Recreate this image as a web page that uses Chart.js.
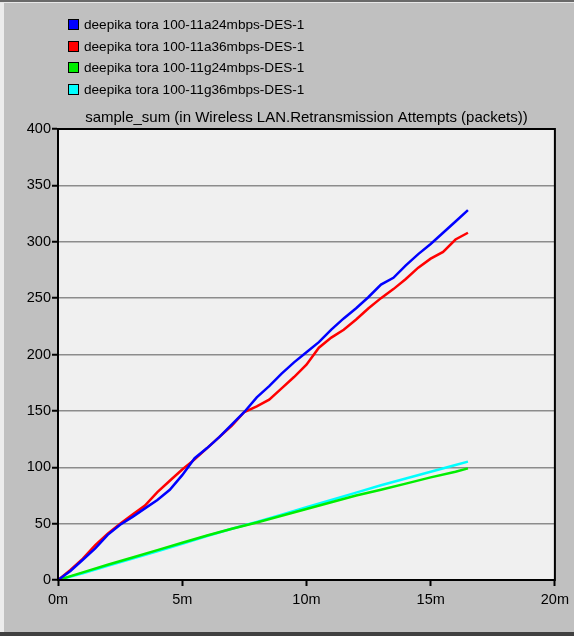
<!DOCTYPE html>
<html>
<head>
<meta charset="utf-8">
<script src="https://cdn.jsdelivr.net/npm/chart.js@4"></script>
<style>
  html, body { margin: 0; padding: 0; }
  body { width: 574px; height: 636px; background: #c0c0c0; position: relative; overflow: hidden;
         font-family: "Liberation Sans", Arial, sans-serif; }
  #frameTop { position: absolute; left: 0; top: 0; width: 574px; height: 2px; background: #6a6a6a; }
  #frameTop2 { position: absolute; left: 0; top: 2px; width: 574px; height: 1px; background: #e8e8e8; }
  #frameLeft { position: absolute; left: 0; top: 3px; width: 4px; height: 630px; background: #ececec; }
  #frameBottom { position: absolute; left: 0; top: 632px; width: 574px; height: 4px; background: #404040; }
  #wrap { position: absolute; left: 0; top: 0; width: 574px; height: 636px; }
  #legend { position: absolute; left: 68px; top: 14px; font-size: 13.6px; color: #000; }
  #legend div { height: 21.5px; line-height: 21.5px; white-space: nowrap; }
  #legend span.box { display: inline-block; width: 9px; height: 9px; border: 1px solid #000;
                     margin-right: 5px; vertical-align: -1px; }
</style>
</head>
<body>
<div id="frameTop"></div>
<div id="frameTop2"></div>
<div id="frameLeft"></div>
<div id="frameBottom"></div>
<div id="wrap"><canvas id="retxChart" width="574" height="636"></canvas></div>
<div id="legend"></div>
<script>
// series names and colours
const seriesNames = [
  "deepika tora 100-11a24mbps-DES-1",
  "deepika tora 100-11a36mbps-DES-1",
  "deepika tora 100-11g24mbps-DES-1",
  "deepika tora 100-11g36mbps-DES-1"
];
const seriesColors = ["#0000ff", "#ff0000", "#00ee00", "#00ffff"];

// time (minutes) for the 11a runs
const timesA = [0, 0.5, 1, 1.5, 2, 2.5, 3, 3.5, 4, 4.5, 5, 5.5, 6, 6.5, 7, 7.5, 8, 8.5,
                9, 9.5, 10, 10.5, 11, 11.5, 12, 12.5, 13, 13.5, 14, 14.5, 15, 15.5, 16, 16.5];
const a24 = [0, 8, 18, 28, 40, 49, 56, 63.5, 71, 80, 93, 108, 117, 127, 138, 149, 162, 172,
             183, 193, 202, 211, 222, 232, 241, 251, 262, 268, 279, 289, 298, 308, 318, 328];
const a36 = [0, 9, 19, 31, 41, 50, 58, 66, 78, 88, 98, 107, 117, 127, 137, 149, 154, 160,
             170, 180, 191, 206, 215, 222, 231, 241, 250, 258, 267, 277, 285, 291, 302, 308];

// time (minutes) for the 11g runs
const timesG = [0, 1, 2, 3, 4, 5, 6, 7, 8, 9, 10, 11, 12, 13, 14, 15, 16, 16.5];
const g24 = [0, 6.8, 13.5, 20, 26.5, 33, 39.5, 45.5, 51, 57, 63, 69, 75, 80, 85.5, 91, 96, 99];
const g36 = [0, 6, 12.5, 19, 25.5, 32, 39, 45.5, 51.5, 58, 64.5, 71, 77.5, 84, 90, 96, 102, 105];

// axis ticks
const xTicks = [0, 5, 10, 15, 20];
const yTicks = [0, 50, 100, 150, 200, 250, 300, 350, 400];

const chartTitle = "sample_sum (in Wireless LAN.Retransmission Attempts (packets))";

function pts(xs, ys) {
  return xs.map((x, i) => ({ x: x, y: ys[i] }));
}

const allSeries = [pts(timesA, a24), pts(timesA, a36), pts(timesG, g24), pts(timesG, g36)];

// html legend
const legendEl = document.getElementById("legend");
seriesNames.forEach((name, i) => {
  const row = document.createElement("div");
  row.innerHTML = '<span class="box" style="background:' + seriesColors[i] + '"></span>' + name;
  legendEl.appendChild(row);
});

// plot background, border, title
const plotFrame = {
  id: "plotFrame",
  beforeDraw(chart) {
    const { ctx, chartArea: a } = chart;
    ctx.save();
    ctx.fillStyle = "#f0f0f0";
    ctx.fillRect(a.left, a.top, a.right - a.left, a.bottom - a.top);
    ctx.restore();
  },
  afterDraw(chart) {
    const { ctx, chartArea: a } = chart;
    ctx.save();
    ctx.strokeStyle = "#000";
    ctx.lineWidth = 2;
    ctx.strokeRect(a.left, a.top, a.right - a.left, a.bottom - a.top);
    ctx.fillStyle = "#000";
    ctx.font = '15px "Liberation Sans", Arial, sans-serif';
    ctx.textAlign = "center";
    ctx.textBaseline = "middle";
    ctx.fillText(chartTitle, (a.left + a.right) / 2, a.top - 11);
    ctx.restore();
  }
};

const tickFont = { family: '"Liberation Sans", Arial, sans-serif', size: 14.5 };

new Chart(document.getElementById("retxChart").getContext("2d"), {
  type: "line",
  data: {
    datasets: allSeries.map((d, i) => ({
      label: seriesNames[i],
      data: d,
      borderColor: seriesColors[i],
      backgroundColor: seriesColors[i],
      borderWidth: 2.5,
      pointRadius: 0,
      tension: 0,
      fill: false
    }))
  },
  options: {
    responsive: false,
    animation: false,
    layout: { padding: { top: 129, left: 0, right: 19, bottom: 0 } },
    plugins: {
      legend: { display: false },
      tooltip: { enabled: false }
    },
    scales: {
      x: {
        type: "linear",
        min: 0,
        max: 20,
        afterBuildTicks: (s) => { s.ticks = xTicks.map(v => ({ value: v })); },
        afterFit: (s) => { s.height = 56; },
        ticks: { color: "#000", font: tickFont, padding: 5, maxRotation: 0,
                 callback: (v) => v + "m" },
        grid: { drawOnChartArea: false, drawTicks: true, tickLength: 6,
                tickColor: "#000", tickWidth: 2 },
        border: { color: "#000", width: 2 }
      },
      y: {
        min: 0,
        max: 400,
        afterBuildTicks: (s) => { s.ticks = yTicks.map(v => ({ value: v })); },
        afterFit: (s) => { s.width = 58; },
        ticks: { color: "#000", font: tickFont, padding: 1 },
        grid: { color: "#8c8c8c", lineWidth: 1.5, tickLength: 6,
                tickColor: "#000", tickWidth: 2 },
        border: { color: "#000", width: 2 }
      }
    }
  },
  plugins: [plotFrame]
});
</script>
</body>
</html>
